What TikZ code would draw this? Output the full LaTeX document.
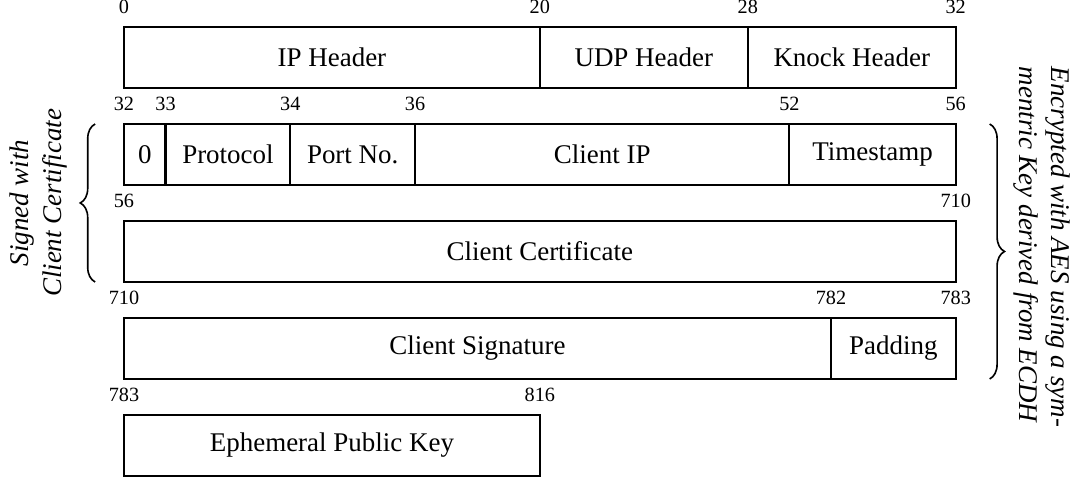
\documentclass[tikz,border=0pt]{standalone}
\usepackage{fontspec}
\setmainfont{Liberation Serif}
\usepackage{tikz}
\usetikzlibrary{positioning,decorations.pathreplacing}

\begin{document}
\begin{tikzpicture}[
  field/.style={draw, thick, inner sep=0pt, outer sep=0pt,
                minimum height=7.95mm, align=center},
  num/.style={font=\fontsize{7.5}{9}\selectfont, inner sep=0pt},
  brc/.style={decorate, decoration={brace, amplitude=5.5pt}, semithick},
  lbl/.style={font=\itshape, align=center}]
\useasboundingbox (0,0) rectangle (139.98mm,-62.17mm);
% ---- outer headers ----
\node[field, minimum width=54.2mm, anchor=north west] (ip) at (16.16mm,-3.52mm) {IP Header};
\node[field, minimum width=27.1mm, right=0pt of ip] (udp) {UDP Header};
\node[field, minimum width=27.1mm, right=0pt of udp] (knock) {Knock Header};
% ---- knock payload ----
\node[field, minimum width=5.42mm, below=4.69mm of ip.south west, anchor=north west] (zero) {0};
\node[field, minimum width=16.26mm, right=0pt of zero] (proto) {Protocol};
\node[field, minimum width=16.26mm, right=0pt of proto] (port) {Port No.};
\node[field, minimum width=48.78mm, right=0pt of port] (cip) {Client IP};
\node[field, minimum width=21.68mm, right=0pt of cip] (tstamp) {Timestamp};
\node[field, minimum width=108.4mm, below=4.69mm of zero.south west, anchor=north west] (cert) {Client Certificate};
\node[field, minimum width=92.14mm, below=4.69mm of cert.south west, anchor=north west] (sig) {Client Signature};
\node[field, minimum width=16.26mm, right=0pt of sig] (pad) {Padding};
\node[field, minimum width=54.2mm, below=4.69mm of sig.south west, anchor=north west] (ephem) {Ephemeral Public Key};
% ---- byte offsets ----
\node[num, above=1.6mm of ip.north west] (n0) {0};
\node[num, above=1.6mm of ip.north east] (n20) {20};
\node[num, above=1.6mm of udp.north east] (n28) {28};
\node[num, above=1.6mm of knock.north east] (n32) {32};
\node[num, above=1.6mm of zero.north west] (n32b) {32};
\node[num, above=1.6mm of zero.north east] (n33) {33};
\node[num, above=1.6mm of proto.north east] (n34) {34};
\node[num, above=1.6mm of port.north east] (n36) {36};
\node[num, above=1.6mm of cip.north east] (n52) {52};
\node[num, above=1.6mm of tstamp.north east] (n56) {56};
\node[num, above=1.6mm of cert.north west] (n56b) {56};
\node[num, above=1.6mm of cert.north east] (n710) {710};
\node[num, above=1.6mm of sig.north west] (n710b) {710};
\node[num, above=1.6mm of sig.north east] (n782) {782};
\node[num, above=1.6mm of pad.north east] (n783) {783};
\node[num, above=1.6mm of ephem.north west] (n783b) {783};
\node[num, above=1.6mm of ephem.north east] (n816) {816};
% ---- braces ----
\draw[brc] ([xshift=-10.7pt]cert.south west) --
  node[lbl, midway, xshift=-7.4mm, rotate=90] (signed)
  {Signed with\\Client Certificate}
  ([xshift=-10.7pt]zero.north west);
\draw[brc] ([xshift=12.6pt]tstamp.north east) --
  node[lbl, align=left, midway, xshift=6.8mm, yshift=0.6mm, rotate=-90] (enc)
  {Encrypted with AES using a sym-\\mentric Key derived from ECDH}
  ([xshift=12.6pt]pad.south east);
\end{tikzpicture}
\end{document}
